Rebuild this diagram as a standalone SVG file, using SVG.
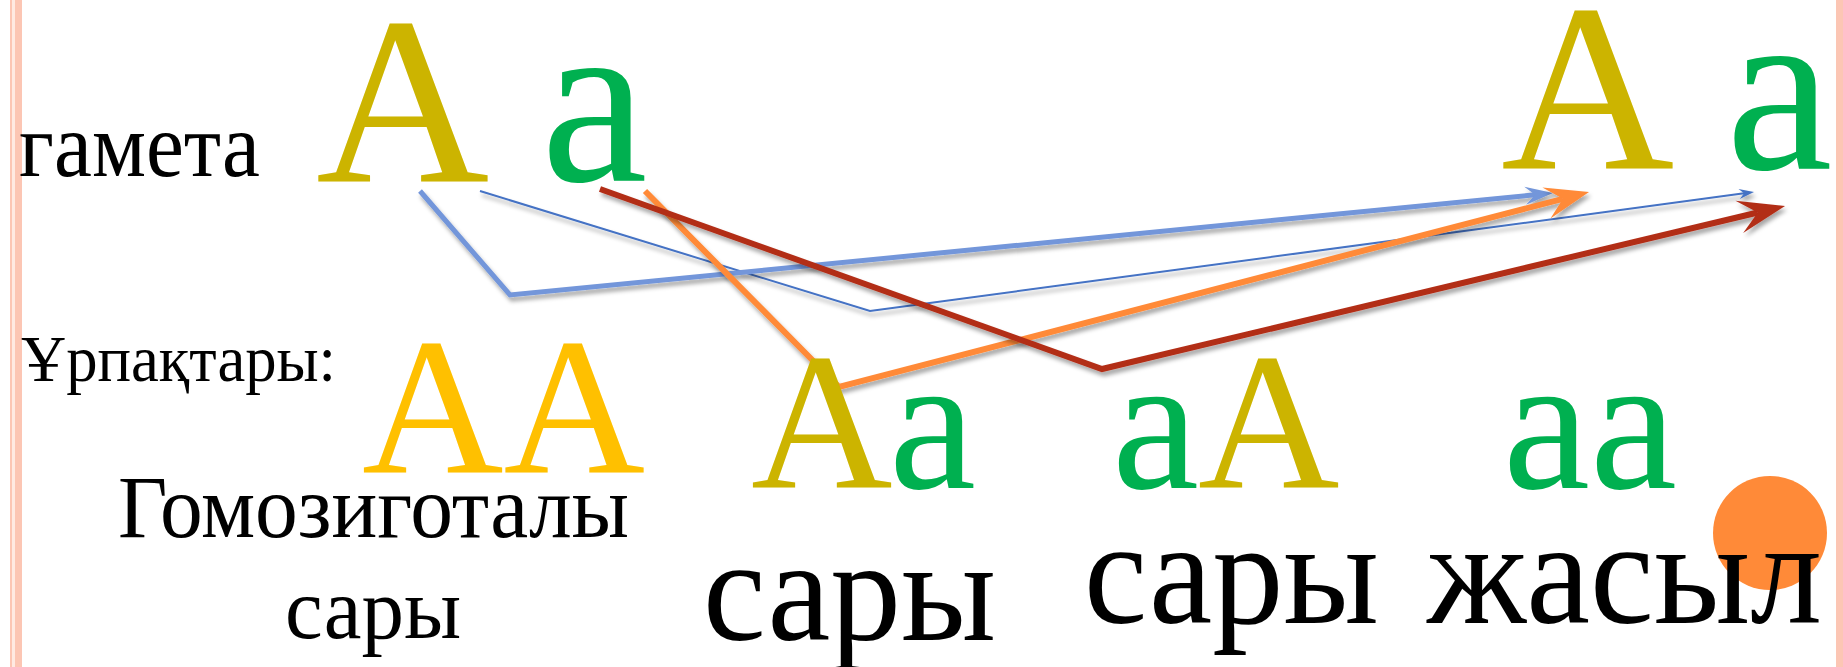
<svg xmlns="http://www.w3.org/2000/svg" width="1843" height="667" viewBox="0 0 1843 667">
  <style>
    .serif { font-family: "Liberation Serif", "Times New Roman", "DejaVu Serif", serif; }
    .blk { fill: #000000; }
    .gA { fill: #CCB400; }
    .gold { fill: #FFC000; }
    .grn { fill: #00B050; }
    .ln { fill: none; stroke-linejoin: miter; stroke-linecap: butt; filter: url(#shadow); }
    .thinblue { stroke: #4472C4; stroke-width: 2; }
    .thickblue { stroke: #7396DA; stroke-width: 5; }
    .orange { stroke: #FF8A38; stroke-width: 6; }
    .red { stroke: #B22D17; stroke-width: 6; }
  </style>
  <defs>
    <filter id="shadow" x="-10%" y="-30%" width="120%" height="160%">
      <feDropShadow dx="2" dy="4" stdDeviation="2" flood-color="#000000" flood-opacity="0.35"/>
    </filter>
    <marker id="mRed" markerUnits="userSpaceOnUse" orient="auto" refX="19" refY="16.5" markerWidth="48" markerHeight="34" overflow="visible">
      <path d="M47,16.5 L0,0 L19,16.5 L0,33 Z" fill="#B22D17"/>
    </marker>
    <marker id="mOrange" markerUnits="userSpaceOnUse" orient="auto" refX="17" refY="16" markerWidth="45" markerHeight="32" overflow="visible">
      <path d="M44,16 L0,0 L17,16 L0,32 Z" fill="#FF8A38"/>
    </marker>
    <marker id="mThickBlue" markerUnits="userSpaceOnUse" orient="auto" refX="10" refY="9" markerWidth="28" markerHeight="18" overflow="visible">
      <path d="M28,9 L0,0 L10,9 L0,18 Z" fill="#7396DA"/>
    </marker>
    <marker id="mThinBlue" markerUnits="userSpaceOnUse" orient="auto" refX="5" refY="5" markerWidth="15" markerHeight="10" overflow="visible">
      <path d="M15,5 L0,0 L5,5 L0,10 Z" fill="#4472C4"/>
    </marker>
  </defs>

  <rect x="0" y="0" width="1843" height="667" fill="#FFFFFF"/>

  <g id="frame">
    <rect x="10" y="0" width="2" height="667" fill="#FCC6B4"/>
    <rect x="12" y="0" width="3" height="667" fill="#FFEAE2"/>
    <rect x="15" y="0" width="7" height="667" fill="#FCC6B4"/>
    <rect x="1836" y="0" width="7" height="667" fill="#FCC6B4"/>
  </g>

  <g id="connectors">
    <path class="ln thinblue" d="M480,191 L870,311 L1744.1,193.3" marker-end="url(#mThinBlue)"/>
    <path class="ln thickblue" d="M420,191 L510,295 L1535.1,194.8" marker-end="url(#mThickBlue)"/>
    <path class="ln orange" d="M645,191 L839,387 L1562.9,198.8" marker-end="url(#mOrange)"/>
    <path class="ln red" d="M600,189 L1102,369 L1757.8,212.5" marker-end="url(#mRed)"/>
  </g>

  <g id="label-gameta">
    <text class="serif blk" x="19" y="176" font-size="90" textLength="241" lengthAdjust="spacingAndGlyphs">гамета</text>
  </g>
  <g id="gamete-A-left">
    <text class="serif gA" x="316" y="182" font-size="240">A</text>
  </g>
  <g id="gamete-a-left">
    <text class="serif grn" x="541" y="181" font-size="240">a</text>
  </g>
  <g id="gamete-A-right">
    <text class="serif gA" x="1501" y="169" font-size="240">A</text>
  </g>
  <g id="gamete-a-right">
    <text class="serif grn" x="1726" y="169" font-size="240">a</text>
  </g>

  <g id="label-urpaktary">
    <text class="serif blk" x="21" y="381" font-size="66" textLength="315" lengthAdjust="spacingAndGlyphs">Ұрпақтары:</text>
  </g>

  <g id="offspring-AA">
    <text class="serif gold" x="362" y="473" font-size="196">AA</text>
  </g>
  <g id="offspring-Aa">
    <text class="serif" y="488" font-size="196"><tspan class="gA" x="751">A</tspan><tspan class="grn" x="889">a</tspan></text>
  </g>
  <g id="offspring-aA">
    <text class="serif" y="488" font-size="196"><tspan class="grn" x="1112">a</tspan><tspan class="gA" x="1198">A</tspan></text>
  </g>
  <g id="offspring-aa">
    <text class="serif grn" x="1503" y="488" font-size="196">aa</text>
  </g>

  <g id="label-homozygous">
    <text class="serif blk" x="118" y="537" font-size="88" textLength="511" lengthAdjust="spacingAndGlyphs">Гомозиготалы</text>
    <text class="serif blk" x="285" y="638" font-size="87" textLength="176" lengthAdjust="spacingAndGlyphs">сары</text>
  </g>
  <g id="label-sary-1">
    <text class="serif blk" x="703" y="640" font-size="146" textLength="293" lengthAdjust="spacingAndGlyphs">сары</text>
  </g>
  <g id="dot">
    <circle cx="1770" cy="533" r="57" fill="#FF8A38"/>
  </g>
  <g id="label-sary-2">
    <text class="serif blk" x="1084" y="623" font-size="148" textLength="295" lengthAdjust="spacingAndGlyphs">сары</text>
  </g>
  <g id="label-zhasyl">
    <text class="serif blk" x="1427" y="623" font-size="148" textLength="395" lengthAdjust="spacingAndGlyphs">жасыл</text>
  </g>
</svg>
